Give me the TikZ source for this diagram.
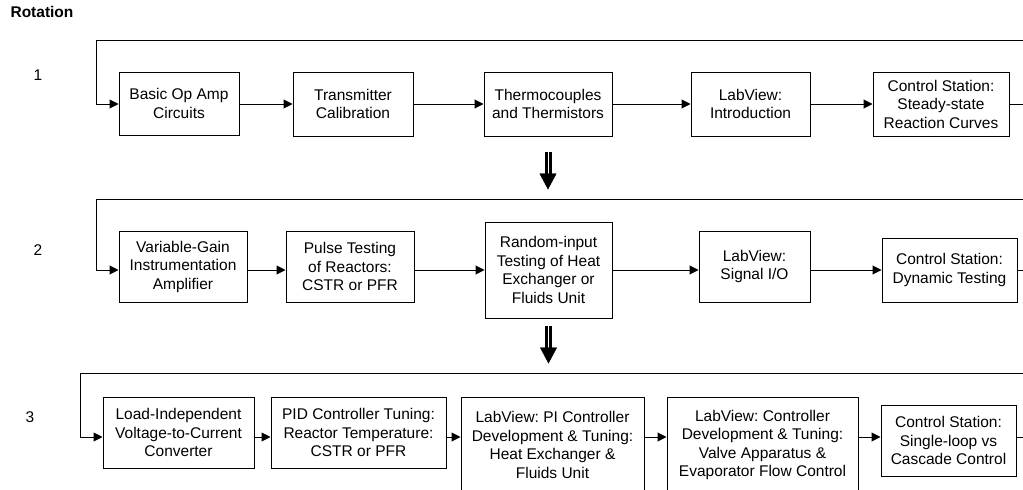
\documentclass[tikz,border=0pt]{standalone}
\usepackage{fontspec}
\setmainfont{Liberation Sans}
\frenchspacing
\usetikzlibrary{arrows.meta}
\tikzset{
  blk/.style 2 args={draw,line width=1pt,align=center,inner sep=0pt,
    minimum width=#1,minimum height=#2,font=\fontsize{15.5}{18.5}\selectfont},
  flow/.style={line width=1pt,-{Triangle[length=9pt,width=9pt]}},
  shaft/.style={line width=3pt,double,double distance=1pt},
  bigtip/.style={-{Triangle[length=16pt,width=17pt]},shorten <=22pt},
  lbl/.style={font=\fontsize{15.5}{18.5}\selectfont},
}

\begin{document}
\begin{tikzpicture}[x=1pt,y=-1pt]
    \useasboundingbox (0,0) rectangle (1023,490);
    \clip (0,0) rectangle (1023,490);

    \node[lbl] (rot) at (42,12) {\textbf{Rotation}};
    \node[lbl] (n1) at (38,75) {1};
    \node[lbl] (n2) at (38,250) {2};
    \node[lbl] (n3) at (30,417) {3};

    % row 1
    \coordinate (a0) at (96,104);
    \node[blk={120}{63}] (a1) at (179,103.5) {Basic Op Amp\\Circuits};
    \node[blk={120}{64}] (a2) at (353,104) {Transmitter\\Calibration};
    \node[blk={128}{64}] (a3) at (548,104) {Thermocouples\\and Thermistors};
    \node[blk={119}{64}] (a4) at (750.5,104) {LabView:\\Introduction};
    \node[blk={136}{64}] (a5) at (941,104) {Control Station:\\Steady-state\\Reaction Curves};

    % row 2
    \coordinate (b0) at (96,270);
    \node[blk={128}{71}] (b1) at (183,266.5) {Variable-Gain\\Instrumentation\\Amplifier};
    \node[blk={128}{71}] (b2) at (350,266.5) {Pulse Testing\\of Reactors:\\CSTR or PFR};
    \node[blk={127}{96}] (b3) at (548.5,270) {Random-input\\Testing of Heat\\Exchanger or\\Fluids Unit};
    \node[blk={111}{71}] (b4) at (754.5,266.5) {LabView:\\Signal I/O};
    \node[blk={135}{64}] (b5) at (949.5,270) {Control Station:\\Dynamic Testing};

    % row 3
    \coordinate (c0) at (80,437);
    \node[blk={151}{71}] (c1) at (178.5,432.5) {Load-Independent\\Voltage-to-Current\\Converter};
    \node[blk={175}{71}] (c2) at (358.5,432.5) {PID Controller Tuning:\\Reactor Temperature:\\CSTR or PFR};
    \node[blk={183}{96}] (c3) at (552.5,445) {LabView: PI Controller\\Development \& Tuning:\\Heat Exchanger \&\\Fluids Unit};
    \node[blk={191}{96}] (c4) at (762.5,445) {LabView: Controller\\Development \& Tuning:\\Valve Apparatus \&\\Evaporator Flow Control};
    \node[blk={135}{71}] (c5) at (948.5,440.5) {Control Station:\\Single-loop vs\\Cascade Control};

    % steps along each row, and the return loop
    \foreach \r/\top in {a/40,b/199,c/373} {
      \foreach \i/\j in {1/2,2/3,3/4,4/5}
        \draw[flow] (\r\i.east|-\r0) -- (\r\j.west|-\r0);
      \draw[flow] (\r5.east|-\r0) -| (1040,\top) -| (\r0) -- (\r1.west|-\r0);
    }

    % on to the next rotation
    \coordinate (d1) at ([yshift=-15pt]a3.south);
    \coordinate (d2) at ([yshift=-7pt]b3.south);
    \foreach \d in {d1,d2} {
      \draw[shaft] (\d) -- ++(0,24);
      \draw[bigtip] (\d) -- ++(0,38);
    }
\end{tikzpicture}
\end{document}
